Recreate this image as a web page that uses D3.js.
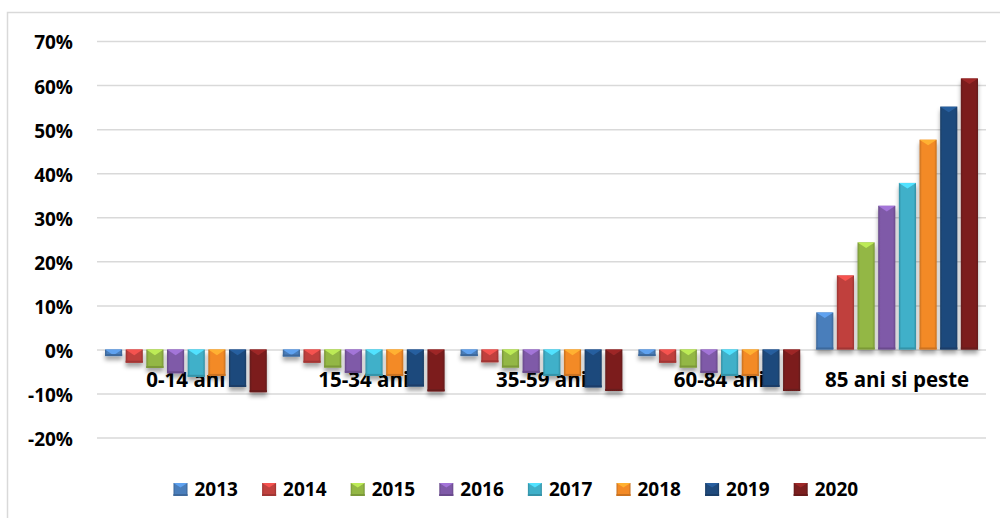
<!DOCTYPE html>
<html>
<head>
<meta charset="utf-8">
<script src="https://cdn.jsdelivr.net/npm/d3@7"></script>
<style>
  body { margin: 0; background: #fff; }
  text { font-family: "Open Sans", "Noto Sans", sans-serif; font-weight: 700; fill: #000; }
</style>
</head>
<body>
<div id="chart"></div>
<script>
// categories and series (percent change)
var categories = ["0-14 ani", "15-34 ani", "35-59 ani", "60-84 ani", "85 ani si peste"];
var years = ["2013", "2014", "2015", "2016", "2017", "2018", "2019", "2020"];

var v2013 = [-1.5, -1.6, -1.5, -1.5, 8.4];
var v2014 = [-3.0, -3.0, -2.9, -3.0, 16.8];
var v2015 = [-4.2, -4.1, -4.1, -4.1, 24.3];
var v2016 = [-5.4, -5.3, -5.3, -5.3, 32.6];
var v2017 = [-6.2, -6.0, -6.0, -6.0, 37.8];
var v2018 = [-6.0, -6.0, -6.0, -6.0, 47.6];
var v2019 = [-8.5, -8.4, -8.6, -8.5, 55.1];
var v2020 = [-9.7, -9.5, -9.4, -9.4, 61.5];

var tickValues = [-20, -10, 0, 10, 20, 30, 40, 50, 60, 70];

var series = [v2013, v2014, v2015, v2016, v2017, v2018, v2019, v2020];
var yearColors = ["#4a7ebb", "#c0413e", "#93b744", "#7f5aa8", "#3fb0c9", "#f38a26", "#1f4a7c", "#7b1f1f"];

// svg area
var svgWidth = 1000;
var svgHeight = 518;

var plot = { left: 97, right: 986, top: 41, bottom: 437.6 };

var svg = d3.select("#chart")
    .append("svg")
    .attr("width", svgWidth)
    .attr("height", svgHeight);

svg.append("rect")
    .attr("width", svgWidth)
    .attr("height", svgHeight)
    .attr("fill", "#fff");

// outer chart border
svg.append("rect")
    .attr("x", 7.5)
    .attr("y", 12.5)
    .attr("width", 1000)
    .attr("height", 520)
    .attr("fill", "none")
    .attr("stroke", "#d9d9d9")
    .attr("stroke-width", 1.5);

var defs = svg.append("defs");

var shadow = defs.append("filter")
    .attr("id", "shadow")
    .attr("x", "-30%").attr("y", "-30%")
    .attr("width", "160%").attr("height", "160%");
shadow.append("feDropShadow")
    .attr("dx", 0)
    .attr("dy", 4)
    .attr("stdDeviation", 2)
    .attr("flood-color", "#000")
    .attr("flood-opacity", 0.35);

// side gradients for the bevel look
yearColors.forEach(function(c, i) {
    var g = defs.append("linearGradient")
        .attr("id", "grad" + i)
        .attr("x1", "0%").attr("x2", "100%")
        .attr("y1", "0%").attr("y2", "0%");
    var dark = d3.color(c).darker(0.6);
    g.append("stop").attr("offset", "0%").attr("stop-color", dark);
    g.append("stop").attr("offset", "14%").attr("stop-color", c);
    g.append("stop").attr("offset", "86%").attr("stop-color", c);
    g.append("stop").attr("offset", "100%").attr("stop-color", dark);
});

// scales
var yScale = d3.scaleLinear()
    .domain([-20, 70])
    .range([plot.bottom, plot.top]);

var x0 = d3.scaleBand()
    .domain(categories)
    .range([plot.left, plot.right]);

var x1 = d3.scaleBand()
    .domain(years)
    .range([8, x0.bandwidth() - 8])
    .paddingInner(0.17);

// gridlines + y labels
var yAxis = d3.axisLeft(yScale)
    .tickValues(tickValues)
    .tickSize(-(plot.right - plot.left))
    .tickPadding(24)
    .tickFormat(function(d) { return d + "%"; });

var yG = svg.append("g")
    .attr("transform", `translate(${plot.left}, 0)`)
    .call(yAxis);
yG.select(".domain").remove();
yG.selectAll(".tick line")
    .attr("stroke", "#d9d9d9")
    .attr("stroke-width", 1.5);
yG.selectAll(".tick text")
    .attr("font-size", 19)
    .attr("dy", "0.42em")
    .attr("fill", "#000")
    .style("font-family", "'Open Sans', sans-serif")
    .style("font-weight", 700);

// category labels (behind the bars)
svg.append("g")
    .selectAll("text")
    .data(categories)
    .enter()
    .append("text")
    .attr("x", d => x0(d) + x0.bandwidth() / 2)
    .attr("y", 387)
    .attr("text-anchor", "middle")
    .attr("font-size", 20.5)
    .text(d => d);

// draws a bevelled box
function bevelBox(g, x, y, w, h, i, pointDown) {
    var c = yearColors[i];
    g.append("rect")
        .attr("x", x)
        .attr("y", y)
        .attr("width", w)
        .attr("height", h)
        .attr("fill", "url(#grad" + i + ")");
    var th = Math.min(w * 0.33, h);
    g.append("path")
        .attr("d", `M${x},${y} L${x + w},${y} L${x + w / 2},${y + th} Z`)
        .attr("fill", d3.color(c).brighter(0.7));
    var bh = Math.min(2, h / 3);
    g.append("rect")
        .attr("x", x)
        .attr("y", y + h - bh)
        .attr("width", w)
        .attr("height", bh)
        .attr("fill", d3.color(c).darker(0.5));
}

// bars
var zero = yScale(0);
var barsG = svg.append("g").attr("filter", "url(#shadow)");
categories.forEach(function(cat, ci) {
    years.forEach(function(yr, yi) {
        var v = series[yi][ci];
        var top = v >= 0 ? yScale(v) : zero;
        var h = Math.abs(yScale(v) - zero);
        bevelBox(barsG.append("g"), x0(cat) + x1(yr), top, x1.bandwidth(), h, yi);
    });
});

// legend
var legendStep = 88.6;
var legendX = 173.5;
var legendG = svg.append("g");
years.forEach(function(yr, i) {
    var lx = legendX + i * legendStep;
    bevelBox(legendG.append("g"), lx, 483, 14, 13, i);
    legendG.append("text")
        .attr("x", lx + 21)
        .attr("y", 496)
        .attr("font-size", 19)
        .text(yr);
});
</script>
</body>
</html>
